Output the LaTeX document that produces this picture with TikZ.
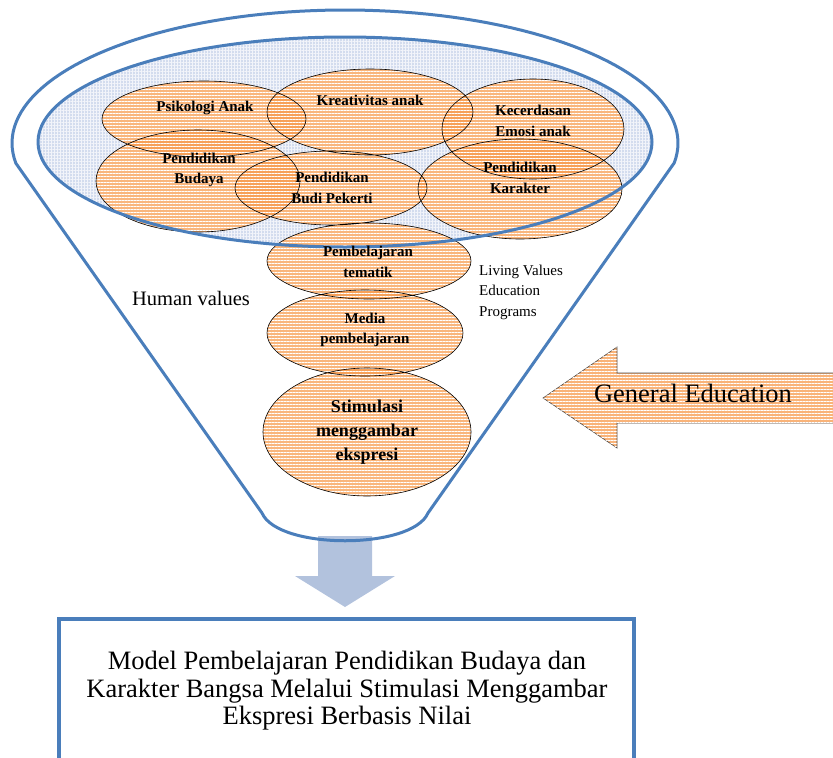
\documentclass[tikz,border=0pt]{standalone}
\usepackage{fontspec}
\setmainfont{Liberation Serif}
\usetikzlibrary{patterns,patterns.meta}
\definecolor{funnelblue}{HTML}{4A7EBB}
\definecolor{bowlfill}{HTML}{D3DCEE}
\definecolor{blobfill}{HTML}{F79A4C}
\definecolor{arrowblue}{HTML}{B2C2DD}
\tikzset{
  blob/.style={fill=blobfill, fill opacity=.72, postaction={pattern={Lines[distance=3pt,line width=.8pt]}, pattern color=white}},
  lbl/.style={inner sep=0pt, align=center, font=\bfseries\fontsize{15}{20.5}\selectfont},
  txt/.style={inner sep=0pt, align=left, font=\fontsize{15}{20.5}\selectfont},
  funnel/.style={draw=funnelblue, line width=3pt, line join=round},
}
\begin{document}
\begin{tikzpicture}[x=1pt,y=-1pt]
			\useasboundingbox (0,0) rectangle (833,758);
			\clip (0,0) rectangle (833,758);
			% down arrow under the funnel
			\fill [arrowblue] (318,536)-- (372,536)-- (372,576)-- (395,576)-- (345,607)-- (295,576)-- (318,576)-- cycle;
			% funnel
			\draw [funnel] (262,513)-- (15.7,163)-- plot[domain=171.4:368.6,samples=90] ({345+333*cos(\x)},{143+133*sin(\x)})-- (428,513) .. controls (412,550) and (278,550) .. (262,513);
			% inner bowl
			\fill [bowlfill, postaction={pattern={Hatch[angle=0,distance=3pt,line width=.6pt]}, pattern color=white!70!bowlfill}] (345,142) ellipse [x radius=307, y radius=105];
			% white under the blobs
			\fill [white] (204,119) ellipse [x radius=102, y radius=38] (370,112) ellipse [x radius=103, y radius=43] (533,129) ellipse [x radius=91, y radius=50] (198,181) ellipse [x radius=102, y radius=51] (331,188) ellipse [x radius=96, y radius=37] (520,189) ellipse [x radius=102, y radius=50] (369,261) ellipse [x radius=102, y radius=38] (365,333) ellipse [x radius=98, y radius=43] (367,432) ellipse [x radius=104, y radius=64];
			\fill [blob] (204,119) ellipse [x radius=102, y radius=38];
			\fill [blob] (370,112) ellipse [x radius=103, y radius=43];
			\fill [blob] (533,129) ellipse [x radius=91, y radius=50];
			\fill [blob] (198,181) ellipse [x radius=102, y radius=51];
			\fill [blob] (331,188) ellipse [x radius=96, y radius=37];
			\fill [blob] (520,189) ellipse [x radius=102, y radius=50];
			\fill [blob] (369,261) ellipse [x radius=102, y radius=38];
			\fill [blob] (365,333) ellipse [x radius=98, y radius=43];
			\fill [blob] (367,432) ellipse [x radius=104, y radius=64];
			\draw [line width=0.6] (204,119) ellipse [x radius=102, y radius=38] (370,112) ellipse [x radius=103, y radius=43] (533,129) ellipse [x radius=91, y radius=50] (198,181) ellipse [x radius=102, y radius=51] (331,188) ellipse [x radius=96, y radius=37] (520,189) ellipse [x radius=102, y radius=50] (369,261) ellipse [x radius=102, y radius=38] (365,333) ellipse [x radius=98, y radius=43] (367,432) ellipse [x radius=104, y radius=64];
			\draw [funnel] (345,142) ellipse [x radius=307, y radius=105];
			% labels
			\node [lbl] (psikologi) at (205,108) {Psikologi Anak};
			\node [lbl] (kreativitas) at (370,100) {Kreativitas anak};
			\node [lbl] (kecerdasan) at (533,121) {Kecerdasan\\Emosi anak};
			\node [lbl] (budaya) at (199,170) {Pendidikan\\Budaya};
			\node [lbl] (budi) at (332,188) {Pendidikan\\Budi Pekerti};
			\node [lbl] (karakter) at (520,178) {Pendidikan\\Karakter};
			\node [lbl] (tematik) at (368,262) {Pembelajaran\\tematik};
			\node [lbl] (media) at (365,330) {Media\\pembelajaran};
			\node [lbl, font=\bfseries\fontsize{18}{24}\selectfont] (stimulasi) at (367,432) {Stimulasi\\menggambar\\ekspresi};
			\node [txt, anchor=west] (living) at (479,292) {Living Values\\Education\\Programs};
			\node [inner sep=0pt, font=\fontsize{20.5}{24}\selectfont] (human) at (191,298) {Human values};
			% general education arrow
			\draw [fill=blobfill!75!white, draw=black!70, line width=0.6, postaction={pattern={Lines[distance=3pt,line width=.8pt]}, pattern color=white}] (543,398)-- (617,347)-- (617,373)-- (845,373)-- (845,423)-- (617,423)-- (617,448)-- cycle;
			\node [inner sep=0pt, font=\fontsize{26.5}{30}\selectfont] (gened) at (693,393) {General Education};
			% result box
			\draw [draw=funnelblue, line width=4.5pt] (59,619) rectangle (634,800);
			\node [inner sep=0pt, align=center, font=\fontsize{26.5}{27.5}\selectfont] (model) at (347,691) {Model Pembelajaran Pendidikan Budaya dan\\Karakter Bangsa Melalui Stimulasi Menggambar\\Ekspresi Berbasis Nilai};
		\end{tikzpicture}
\end{document}
